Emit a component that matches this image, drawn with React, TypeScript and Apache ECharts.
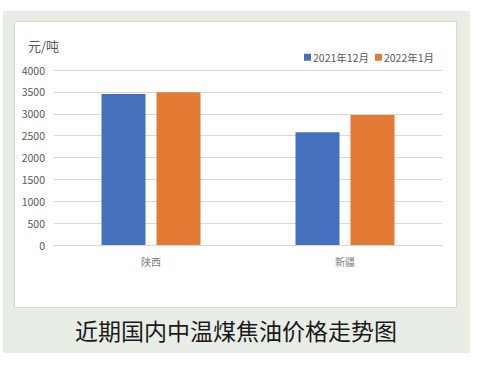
import React, { useEffect, useRef } from "react";
import * as echarts from "echarts";

const categories = ["陕西", "新疆"];
const seriesNames = ["2021年12月", "2022年1月"];
const dec2021 = [3450, 2580];
const jan2022 = [3490, 2970];
const yTicks = [0, 500, 1000, 1500, 2000, 2500, 3000, 3500, 4000];
const unitLabel = "元/吨";
const captionText = "近期国内中温煤焦油价格走势图";

export default function App() {
  const ref = useRef<HTMLDivElement>(null);
  useEffect(() => {
    if (!ref.current) return;
    const chart = echarts.init(ref.current, null, { renderer: "svg" });
    const font = "'Noto Sans CJK SC', 'Noto Sans', sans-serif";
    chart.setOption({
      animation: false,
      backgroundColor: "#ffffff",
      textStyle: { fontFamily: font },
      graphic: [
        {
          type: "rect",
          z: -10,
          shape: { x: 3, y: 11, width: 467, height: 342 },
          style: { fill: "#e8ede6" },
        },
        {
          type: "rect",
          z: -9,
          shape: { x: 14.5, y: 21.5, width: 442, height: 286 },
          style: { fill: "#ffffff", stroke: "#d8d8d4", lineWidth: 1 },
        },
        {
          type: "text",
          x: 28,
          y: 45,
          style: {
            text: unitLabel,
            fontSize: 13,
            fill: "#595959",
            fontFamily: font,
            verticalAlign: "middle",
          },
        },
        {
          type: "text",
          x: 236,
          y: 330,
          style: {
            text: captionText,
            fontSize: 23,
            fill: "#1a1a1a",
            fontFamily: font,
            align: "center",
            verticalAlign: "middle",
          },
        },
      ],
      legend: {
        left: 304,
        top: 52,
        padding: 0,
        itemWidth: 7,
        itemHeight: 7,
        itemGap: 6,
        icon: "rect",
        textStyle: { fontSize: 10.5, color: "#595959", fontFamily: font, padding: [0, 0, 0, -3] },
        data: seriesNames,
      },
      grid: { left: 54, right: 37, top: 70, bottom: 120, containLabel: false },
      xAxis: {
        type: "category",
        data: categories,
        axisLine: { lineStyle: { color: "#d9d9d9" } },
        axisTick: { show: false },
        axisLabel: { fontSize: 10, color: "#7f7f7f", margin: 11 },
      },
      yAxis: {
        type: "value",
        min: yTicks[0],
        max: yTicks[yTicks.length - 1],
        interval: 500,
        axisLine: { show: false },
        axisTick: { show: false },
        splitLine: { lineStyle: { color: "#d9d9d9" } },
        axisLabel: {
          fontSize: 10.5,
          color: "#595959",
          margin: 9,
          formatter: (v: number) => String(v),
        },
      },
      series: [
        {
          name: seriesNames[0],
          type: "bar",
          data: dec2021,
          barWidth: 44,
          barGap: "25%",
          itemStyle: { color: "#4470bd" },
        },
        {
          name: seriesNames[1],
          type: "bar",
          data: jan2022,
          barWidth: 44,
          barGap: "25%",
          itemStyle: { color: "#e47b35" },
        },
      ],
    });
    return () => chart.dispose();
  }, []);
  return (
    <div
      ref={ref}
      style={{ position: "fixed", left: 0, top: 0, width: 479, height: 365 }}
    />
  );
}
